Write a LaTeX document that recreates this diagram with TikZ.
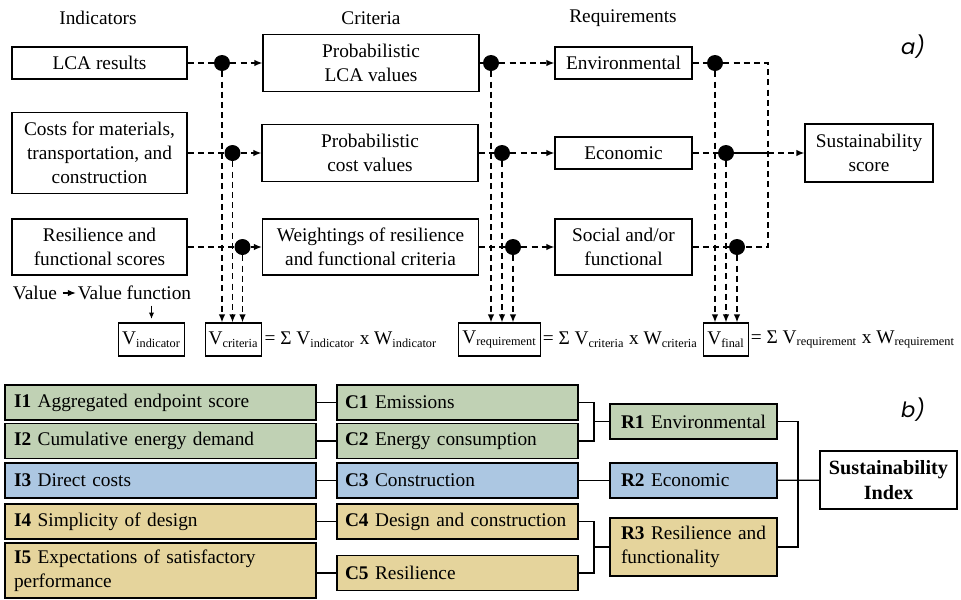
\documentclass[tikz,border=0pt]{standalone}
\usepackage{fontspec}
\setmainfont{Liberation Serif}
\newfontfamily\panelfont{Poppins}
\usetikzlibrary{arrows.meta}

\def\px{0.02cm}
\newcommand\lo[1]{\textsubscript{\fontsize{7}{8}\selectfont #1}}

\definecolor{envgreen}{RGB}{192,209,180}
\definecolor{ecoblue}{RGB}{172,199,226}
\definecolor{socsand}{RGB}{229,212,156}

\tikzset{
  stage/.style={draw, line width=0.7pt, align=center, inner sep=1pt},
  dot/.style={circle, fill=black, inner sep=0pt, minimum size=16*\px},
  flow/.style={line width=0.7pt, dash pattern=on 3.4pt off 2.4pt},
  flowarrow/.style={flow, -{Latex[length=4.5pt,width=3.6pt]}},
  vbox/.style={draw, line width=0.7pt, inner sep=2pt, minimum height=33*\px},
  panel/.style={font=\panelfont\itshape\fontsize{12}{14}\selectfont},
  ibox/.style={draw, line width=1.1pt, fill=#1, align=left, text width=5.86cm,
    inner xsep=0.18cm, inner ysep=0pt, minimum height=35*\px},
  cbox/.style={ibox=#1, text width=4.5cm, inner xsep=0.16cm},
  rbox/.style={ibox=#1, text width=2.9cm, inner xsep=0.22cm},
  link/.style={line width=0.7pt}
}

\begin{document}
\begin{tikzpicture}[x=\px, y=-\px, font=\fontsize{11}{13.6}\selectfont]
  \useasboundingbox (0,0) rectangle (961,599);

  % ---- a) flow of values ----
  \node (hind) at (98,18) {Indicators};
  \node (hcri) at (371,18) {Criteria};
  \node (hreq) at (623,18) {Requirements};
  \node[panel] (pa) at (913,47) {a)};

  \node[stage, minimum width=175*\px, minimum height=32*\px] (ind1) at (99.5,63) {LCA results};
  \node[stage, minimum width=175*\px, minimum height=81*\px] (ind2) at (99.5,153) {Costs for materials,\\transportation, and\\construction};
  \node[stage, minimum width=175*\px, minimum height=56*\px] (ind3) at (99.5,247) {Resilience and\\functional scores};

  \node[stage, minimum width=216*\px, minimum height=57*\px] (cri1) at (371,63) {Probabilistic\\LCA values};
  \node[stage, minimum width=216*\px, minimum height=57*\px] (cri2) at (370,153) {Probabilistic\\cost values};
  \node[stage, minimum width=216*\px, minimum height=56*\px] (cri3) at (370.5,247) {Weightings of resilience\\and functional criteria};

  \node[stage, minimum width=137*\px, minimum height=32*\px] (req1) at (623.5,63) {Environmental};
  \node[stage, minimum width=137*\px, minimum height=32*\px] (req2) at (623.5,153) {Economic};
  \node[stage, minimum width=137*\px, minimum height=56*\px] (req3) at (623.5,247) {Social and/or\\functional};

  \node[stage, minimum width=128*\px, minimum height=58*\px] (score) at (869,153) {Sustainability\\score};

  % junction dots
  \node[dot] (d11) at (222,63) {};
  \node[dot] (d12) at (232.5,153) {};
  \node[dot] (d13) at (242.5,247) {};
  \node[dot] (d21) at (491,63) {};
  \node[dot] (d22) at (502,153) {};
  \node[dot] (d23) at (513,247) {};
  \node[dot] (d31) at (715,63) {};
  \node[dot] (d32) at (726,153) {};
  \node[dot] (d33) at (737,247) {};
  \coordinate (jn) at (768,153);

  % weighted sums
  \node[inner sep=1pt] (val) at (35,293) {Value};
  \node[inner sep=1pt] (vfun) at (134.5,293) {Value function};
  \node[vbox] (vind) at (151.5,339.5) {V\lo{indicator}};
  \node[vbox] (vcri) at (233.5,339.5) {V\lo{criteria}};
  \node[anchor=west, inner sep=1pt] (scri) at (vcri.east) {= Σ V\lo{indicator} x W\lo{indicator}};
  \node[vbox] (vreq) at (499.5,339.5) {V\lo{requirement}};
  \node[anchor=west, inner sep=1pt] (sreq) at (vreq.east) {= Σ V\lo{criteria} x W\lo{criteria}};
  \node[vbox] (vfin) at (726,339.5) {V\lo{final}};
  \node[anchor=west, inner sep=1pt] (sfin) at (vfin.east) {= Σ V\lo{requirement} x W\lo{requirement}};

  \draw[line width=0.6pt, -{Latex[length=4.5pt,width=3.6pt]}, shorten <=2pt] (val) -- (vfun);
  \draw[line width=0.6pt, -{Latex[length=3.5pt,width=3pt]}, shorten <=2pt, shorten >=2pt] (vfun.south -| vind) -- (vind);

  % dashed flows
  \draw[flow] (ind1) -- (d11);
  \draw[flow] (ind2) -- (d12);
  \draw[flow] (ind3) -- (d13);
  \draw[flowarrow] (d11) -- (cri1);
  \draw[flowarrow] (d12) -- (cri2);
  \draw[flowarrow] (d13) -- (cri3);
  \draw[flow] (cri1) -- (d21);
  \draw[flow] (cri2) -- (d22);
  \draw[flow] (cri3) -- (d23);
  \draw[flowarrow] (d21) -- (req1);
  \draw[flowarrow] (d22) -- (req2);
  \draw[flowarrow] (d23) -- (req3);
  \draw[flow] (req1) -- (d31);
  \draw[flow] (req2) -- (d32);
  \draw[flow] (req3) -- (d33);
  \draw[flow] (d31) -| (jn) |- (d33);
  \draw[link] (d32) -- (jn);
  \draw[flowarrow] (jn) -- (score);

  \foreach \d/\v in {d11/vcri, d12/vcri, d13/vcri, d21/vreq, d22/vreq, d23/vreq, d31/vfin, d32/vfin, d33/vfin}
    \draw[flowarrow] (\d) -- (\d |- \v.north);

  % ---- b) hierarchy ----
  \node[panel] (pb) at (913,410) {b)};

  \node[ibox=envgreen] (i1) at (160.5,402.5) {\textbf{I1} Aggregated endpoint score};
  \node[ibox=envgreen] (i2) at (160.5,441) {\textbf{I2} Cumulative energy demand};
  \node[ibox=ecoblue] (i3) at (160.5,480.5) {\textbf{I3} Direct costs};
  \node[ibox=socsand] (i4) at (160.5,521.5) {\textbf{I4} Simplicity of design};
  \node[ibox=socsand, minimum height=55*\px] (i5) at (160.5,570.5) {\textbf{I5} Expectations of satisfactory\\performance};

  \node[cbox=envgreen] (c1) at (457.5,402.5) {\textbf{C1} Emissions};
  \node[cbox=envgreen] (c2) at (457.5,441) {\textbf{C2} Energy consumption};
  \node[cbox=ecoblue] (c3) at (457.5,480.5) {\textbf{C3} Construction};
  \node[cbox=socsand] (c4) at (457.5,521.5) {\textbf{C4} Design and construction};
  \node[cbox=socsand] (c5) at (457.5,573) {\textbf{C5} Resilience};

  \node[rbox=envgreen] (r1) at (693.5,421.5) {\textbf{R1} Environmental};
  \node[rbox=ecoblue] (r2) at (693.5,480.5) {\textbf{R2} Economic};
  \node[rbox=socsand, minimum height=58*\px] (r3) at (693.5,547) {\textbf{R3} Resilience and\\functionality};

  \node[draw, line width=1.1pt, align=center, font=\fontsize{11.5}{14}\selectfont\bfseries, inner sep=1pt,
        minimum width=137*\px, minimum height=58*\px] (si) at (888.5,480) {Sustainability\\Index};

  \coordinate (b1) at (594,421.5);
  \coordinate (b2) at (594,547);
  \coordinate (b3) at (798,480.5);

  \draw[link] (i1) -- (c1);
  \draw[link] (i2) -- (c2);
  \draw[link] (i3) -- (c3);
  \draw[link] (i4) -- (c4);
  \draw[link] (i5.east |- c5) -- (c5);
  \draw[link] (c1.east) -| (b1) |- (c2.east);
  \draw[link] (b1) -- (r1);
  \draw[link] (c3) -- (r2);
  \draw[link] (c4.east) -| (b2) |- (c5.east);
  \draw[link] (b2) -- (r3);
  \draw[link] (r1.east) -| (b3) |- (r3.east);
  \draw[link] (r2) -- (si);
\end{tikzpicture}
\end{document}
